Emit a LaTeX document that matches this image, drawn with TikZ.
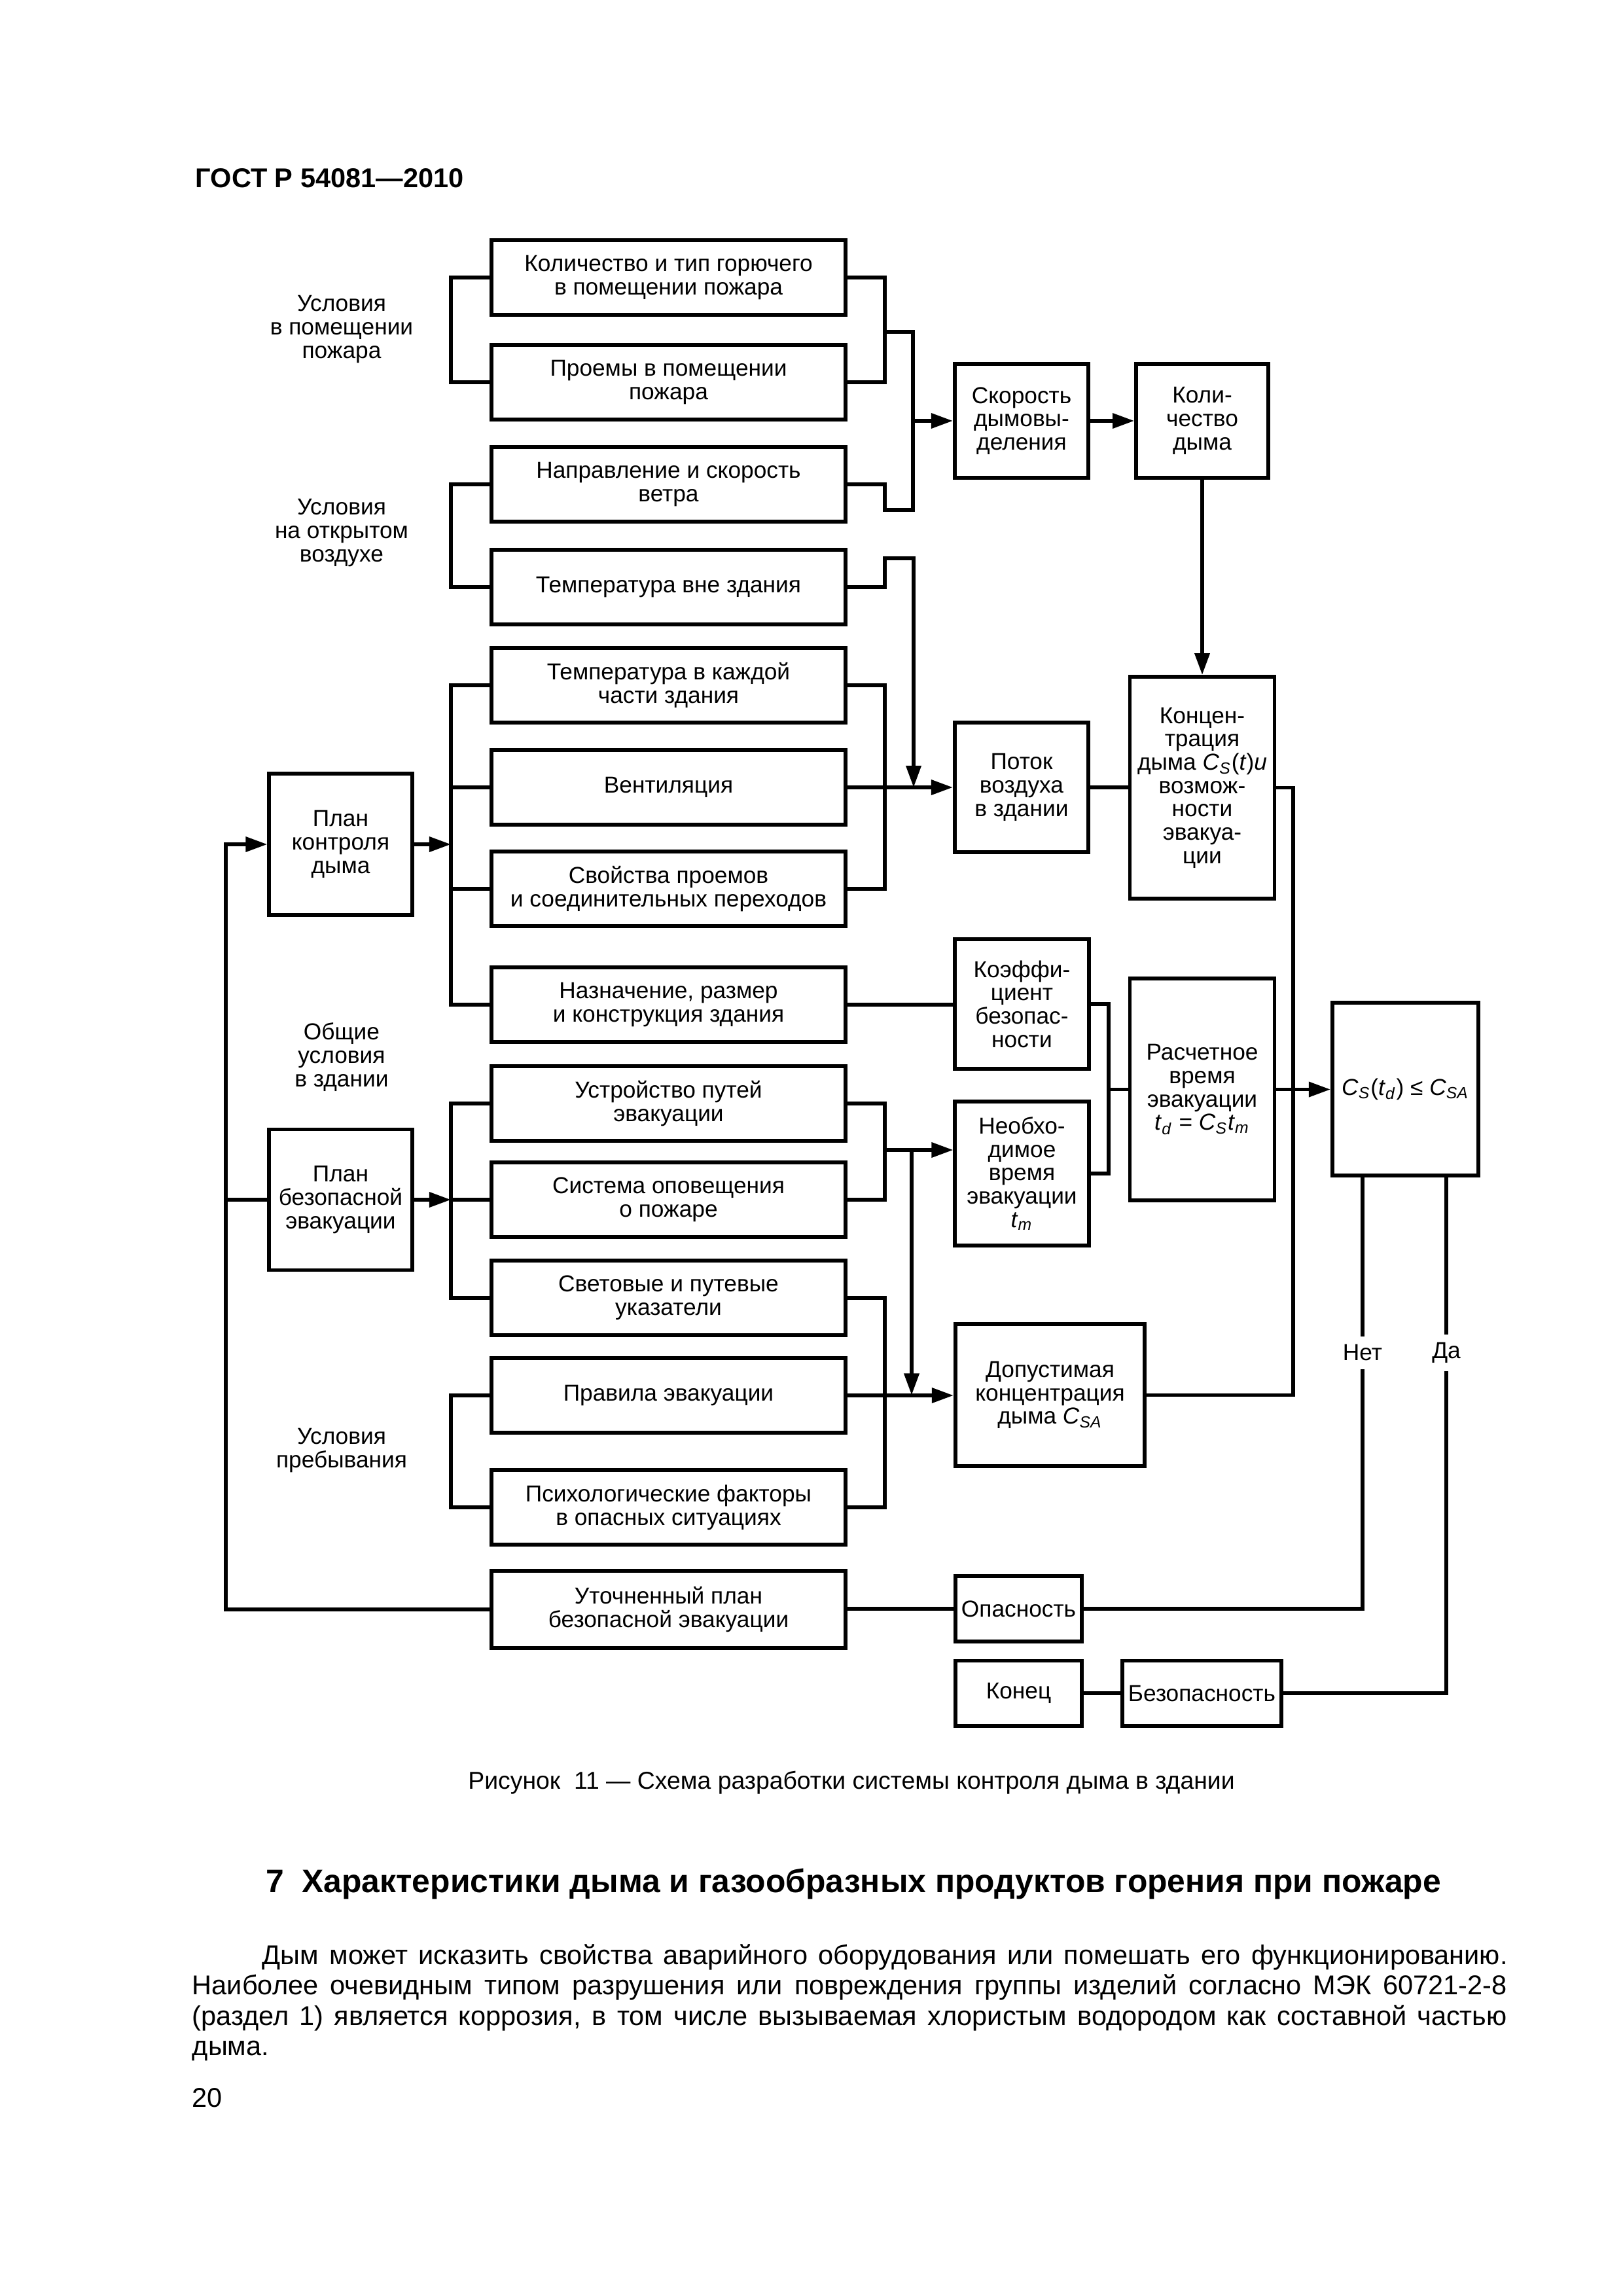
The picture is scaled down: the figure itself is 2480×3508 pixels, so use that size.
\documentclass[tikz,border=0pt]{standalone}
\usepackage{fontspec}
\setmainfont{Liberation Sans}
\usetikzlibrary{arrows.meta, positioning, calc}
\newcommand{\vsub}[2]{\textit{#1}\textsubscript{\textit{#2}}}

\begin{document}
\begin{tikzpicture}[x=0.0846774mm, y=-0.0846774mm,
    txt/.style={font=\fontsize{8.5}{8.6}\selectfont, align=center},
    cond/.style={txt, draw, line width=1.4pt, inner sep=0pt,
                 minimum width=45.8mm, minimum height=9.7mm},
    unit/.style={txt, draw, line width=1.4pt, inner sep=0pt},
    wire/.style={line width=1.3pt},
    arr/.style={line width=1.3pt, -{Triangle[length=2.8mm, width=1.9mm]}}]
    \useasboundingbox (0,0) rectangle (2480,3508);

    % Page header
    \node[font=\fontsize{10}{12}\selectfont\bfseries, anchor=base west, inner sep=0pt]
        (hdr) at (298,286) {ГОСТ Р 54081—2010};

    % Condition groups
    \node[txt] (g1) at (522,503) {Условия\\в помещении\\пожара};
    \node[txt] (g2) at (522,814) {Условия\\на открытом\\воздухе};
    \node[txt] (g3) at (522,1615) {Общие\\условия\\в здании};
    \node[txt] (g4) at (522,2216) {Условия\\пребывания};

    % Input factors
    \node[cond] (f1) at (1021.5,424) {Количество и тип горючего\\в помещении пожара};
    \node[cond] (f2) at (1021.5,584) {Проемы в помещении\\пожара};
    \node[cond] (f3) at (1021.5,740) {Направление и скорость\\ветра};
    \node[cond] (f4) at (1021.5,897) {Температура вне здания};
    \node[cond] (f5) at (1021.5,1047) {Температура в каждой\\части здания};
    \node[cond] (f6) at (1021.5,1203) {Вентиляция};
    \node[cond] (f7) at (1021.5,1358) {Свойства проемов\\и соединительных переходов};
    \node[cond] (f8) at (1021.5,1535) {Назначение, размер\\и конструкция здания};
    \node[cond] (f9) at (1021.5,1686) {Устройство путей\\эвакуации};
    \node[cond] (f10) at (1021.5,1833) {Система оповещения\\о пожаре};
    \node[cond] (f11) at (1021.5,1983) {Световые и путевые\\указатели};
    \node[cond] (f12) at (1021.5,2132) {Правила эвакуации};
    \node[cond] (f13) at (1021.5,2303) {Психологические факторы\\в опасных ситуациях};
    \node[cond, minimum height=10mm] (f14) at (1021.5,2459) {Уточненный план\\безопасной эвакуации};

    % Plans
    \node[unit, minimum width=18.5mm, minimum height=18.3mm] (pc) at (520.5,1290) {План\\контроля\\дыма};
    \node[unit, minimum width=18.5mm, minimum height=18.2mm] (pe) at (520.5,1833) {План\\безопасной\\эвакуации};

    % Smoke and evacuation blocks
    \node[unit, minimum width=17.3mm, minimum height=14.7mm] (rate) at (1561,643) {Скорость\\дымовы-\\деления};
    \node[unit, minimum width=17.1mm, minimum height=14.7mm] (amount) at (1837,643) {Коли-\\чество\\дыма};
    \node[unit, minimum width=17.3mm, minimum height=16.8mm] (flow) at (1561,1203) {Поток\\воздуха\\в здании};
    \node[unit, minimum width=18.7mm, minimum height=28.7mm] (conc) at (1837,1203.5)
        {Концен-\\трация\\дыма \vsub{C}{S}(\textit{t})\textit{u}\\возмож-\\ности\\эвакуа-\\ции};
    \node[unit, minimum width=17.3mm, minimum height=16.8mm] (coef) at (1561.5,1534) {Коэффи-\\циент\\безопас-\\ности};
    \node[unit, minimum width=17.3mm, minimum height=18.6mm] (need) at (1561.5,1793)
        {Необхо-\\димое\\время\\эвакуации\\\vsub{t}{m}};
    \node[unit, minimum width=18.7mm, minimum height=28.7mm] (tcalc) at (1837,1664.5)
        {Расчетное\\время\\эвакуации\\\vsub{t}{d} = \vsub{C}{S}\vsub{t}{m}};
    \node[unit, minimum width=18.9mm, minimum height=22.4mm] (check) at (2147.5,1664)
        {\vsub{C}{S}(\vsub{t}{d}) ≤ \vsub{C}{SA}};
    \node[unit, minimum width=24.5mm, minimum height=18.4mm] (perm) at (1604.5,2131.5)
        {Допустимая\\концентрация\\дыма \vsub{C}{SA}};
    \node[unit, minimum width=16.3mm, minimum height=8.5mm] (danger) at (1556.5,2458) {Опасность};
    \node[unit, minimum width=16.3mm, minimum height=8.4mm] (stop) at (1556.5,2587) {Конец};
    \node[unit, minimum width=20.6mm, minimum height=8.4mm] (safe) at (1836.5,2587) {Безопасность};

    % Branch labels
    \node[txt, inner sep=1mm] (no) at (2082,2067) {Нет};
    \node[txt, inner sep=1mm] (yes) at (2210,2067) {Да};

    % Spines
    \coordinate (fx) at (345,0);
    \coordinate (lx) at (689,0);
    \coordinate (rx) at (1352,0);
    \coordinate (cx) at (1395,0);
    \coordinate (ex) at (1694,0);
    \coordinate (kx) at (1976,0);

    % Left brackets
    \draw[wire] (f1.west) -- (f1.west -| lx) -- (f2.west -| lx) -- (f2.west);
    \draw[wire] (f3.west) -- (f3.west -| lx) -- (f4.west -| lx) -- (f4.west);
    \draw[wire] (f5.west) -- (f5.west -| lx) -- (f8.west -| lx) -- (f8.west);
    \draw[wire] (f6.west) -- (f6.west -| lx);
    \draw[wire] (f7.west) -- (f7.west -| lx);
    \draw[wire] (f9.west) -- (f9.west -| lx) -- (f11.west -| lx) -- (f11.west);
    \draw[wire] (f10.west) -- (f10.west -| lx);
    \draw[wire] (f12.west) -- (f12.west -| lx) -- (f13.west -| lx) -- (f13.west);
    \draw[arr] (pc.east) -- (pc.east -| lx);
    \draw[arr] (pe.east) -- (pe.east -| lx);

    % Right brackets
    \draw[wire] (f1.east) -- (f1.east -| rx) -- (f2.east -| rx) -- (f2.east);
    \draw[wire] (1352,507) -- (1395,507) -- (1395,779) -- (1352,779) -- (f3.east -| rx) -- (f3.east);
    \draw[arr] (rate.west -| cx) -- (rate.west);
    \draw[arr] (f4.east) -- (f4.east -| rx) -- (1352,853) -- (1396,853) -- (1396,1203);
    \draw[arr] (f6.east) -- (flow.west);
    \draw[wire] (f5.east) -- (f5.east -| rx) -- (f7.east -| rx) -- (f7.east);
    \draw[wire] (f8.east) -- (f8.east -| coef.west);
    \draw[wire] (f9.east) -- (f9.east -| rx) -- (f10.east -| rx) -- (f10.east);
    \coordinate (jn) at (1352,1757);
    \coordinate (jd) at (1393,1757);
    \draw[arr] (jn) -- (jn -| need.west);
    \draw[arr] (jd) -- (jd |- perm.west);
    \draw[wire] (f11.east) -- (f11.east -| rx) -- (f13.east -| rx) -- (f13.east);
    \draw[arr] (f12.east) -- (f12.east -| perm.west);

    % Smoke chain
    \draw[arr] (rate) -- (amount);
    \draw[arr] (amount) -- (conc);
    \draw[wire] (flow.east) -- (flow.east -| conc.west);
    \draw[wire] (conc.east) -- (conc.east -| kx) -- (perm.east -| kx) -- (perm.east);
    \draw[wire] (coef.east) -- (coef.east -| ex) -- (need.east -| ex) -- (need.east);
    \draw[wire] (tcalc.west -| ex) -- (tcalc.west);
    \draw[arr] (tcalc.east) -- (tcalc.east -| check.west);

    % Decision branches
    \draw[wire] (check.south -| no) -- (no.north);
    \draw[wire] (no.south) -- (no |- danger.east) -- (danger.east);
    \draw[wire] (check.south -| yes) -- (yes.north);
    \draw[wire] (yes.south) -- (yes |- safe.east) -- (safe.east);
    \draw[wire] (danger.west) -- (danger.west -| f14.east);
    \draw[wire] (stop.east) -- (safe.west);

    % Feedback loop
    \draw[arr] (f14.west) -- (f14.west -| fx) -- (pc.west -| fx) -- (pc.west);
    \draw[wire] (pe.west -| fx) -- (pe.west);

    % Caption and text below
    \node[font=\fontsize{9}{11}\selectfont, anchor=base] (cap) at (1301,2733)
        {Рисунок\ \ 11 — Схема разработки системы контроля дыма в здании};
    \node[font=\fontsize{12}{14}\selectfont\bfseries, anchor=base] (sec) at (1304,2891)
        {7\ \ Характеристики дыма и газообразных продуктов горения при пожаре};
    \node[font=\fontsize{10}{12}\selectfont, anchor=base west, inner sep=0pt] (p1) at (400,3001)
        {\makebox[161.1mm][s]{Дым может исказить свойства аварийного оборудования или помешать его функционированию.}};
    \node[font=\fontsize{10}{12}\selectfont, anchor=base west, inner sep=0pt] (p2) at (293,3047.5)
        {\makebox[170.1mm][s]{Наиболее очевидным типом разрушения или повреждения группы изделий согласно МЭК 60721-2-8}};
    \node[font=\fontsize{10}{12}\selectfont, anchor=base west, inner sep=0pt] (p3) at (293,3094)
        {\makebox[170.1mm][s]{(раздел 1) является коррозия, в том числе вызываемая хлористым водородом как составной частью}};
    \node[font=\fontsize{10}{12}\selectfont, anchor=base west, inner sep=0pt] (p4) at (293,3140.5) {дыма.};
    \node[font=\fontsize{10}{12}\selectfont, anchor=base west, inner sep=0pt] (pg) at (293,3219) {20};
\end{tikzpicture}
\end{document}
